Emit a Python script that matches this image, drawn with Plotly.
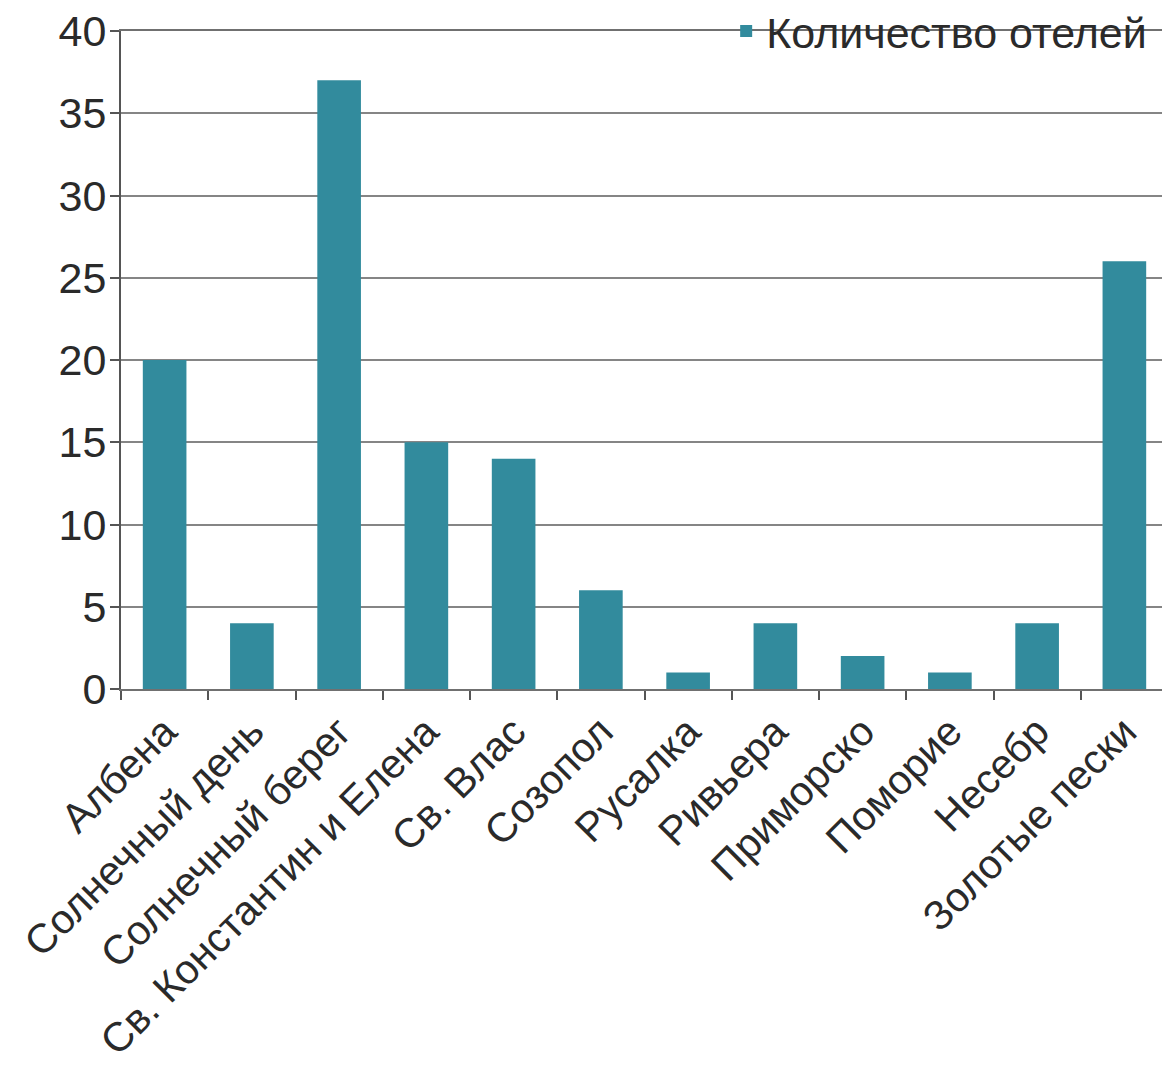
import plotly.graph_objects as go

categories = ["Албена", "Солнечный день", "Солнечный берег", "Св. Константин и Елена",
              "Св. Влас", "Созопол", "Русалка", "Ривьера", "Приморско", "Поморие",
              "Несебр", "Золотые пески"]
hotels = [20, 4, 37, 15, 14, 6, 1, 4, 2, 1, 4, 26]
series_name = "Количество отелей"
y_ticks = [0, 5, 10, 15, 20, 25, 30, 35, 40]

fig = go.Figure()
fig.add_trace(go.Bar(
    x=categories, y=hotels, name=series_name,
    marker=dict(color="#328B9D", line=dict(width=0)),
    width=0.5, showlegend=True,
))

fig.update_layout(
    width=1162, height=1064, autosize=False,
    margin=dict(l=113, r=2, t=23, b=383, autoexpand=False),
    plot_bgcolor="white", paper_bgcolor="white",
    font=dict(family="Liberation Sans, Arial, sans-serif", color="#2a2a2a", size=40),
    showlegend=True,
    legend=dict(x=0.578, y=1.0, xanchor="left", yanchor="middle",
                bgcolor="rgba(0,0,0,0)", font=dict(size=43, color="#2a2a2a"),
                itemwidth=30, tracegroupgap=0),
    bargap=0.5,
)
fig.update_xaxes(
    type="category", showgrid=False, ticks="outside", tickson="boundaries",
    ticklen=9, tickcolor="#555555", tickwidth=2, tickangle=-45,
    showline=True, linecolor="#707070", linewidth=2, mirror=True,
    automargin=False, ticklabeloverflow="allow",
    tickfont=dict(size=41, color="#2a2a2a"),
)
fig.update_yaxes(
    range=[0, 40], tickvals=y_ticks, showgrid=True, gridcolor="#858585", gridwidth=2,
    ticks="outside", ticklen=9, tickcolor="#555555", tickwidth=2,
    showline=True, linecolor="#555555", linewidth=2, zeroline=False,
    automargin=False, ticklabelstandoff=-5, ticklabeloverflow="allow",
    tickfont=dict(size=43, color="#2a2a2a"),
)

fig.write_html("out.html")
